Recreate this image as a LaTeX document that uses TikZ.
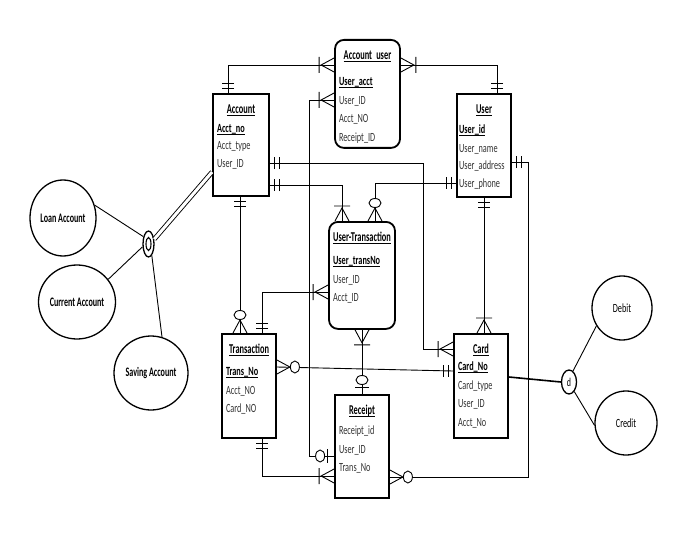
\documentclass[tikz,border=0pt]{standalone}
\usepackage{fontspec}
\setmainfont{Carlito}
\newfontfamily\erfont{Carlito}[FakeStretch=0.66]
\newfontfamily\ertitle{Carlito}[FakeStretch=0.62]
\usetikzlibrary{shapes.geometric}
\newcommand\undl[1]{\leavevmode\setbox0=\hbox{#1}\rlap{\rule[-2pt]{\wd0}{0.7pt}}\box0}
\newcommand\ettl[1]{\rule{0pt}{20pt}\makebox[\linewidth]{\color{black}\ertitle\fontsize{13.5}{18.5}\selectfont\bfseries\undl{#1}}}
\newcommand\ekey[1]{\leavevmode{\color{black}\bfseries\undl{#1}}}

\begin{document}
\begin{tikzpicture}[x=1pt, y=-1pt, line width=0.9pt,
  entity/.style={draw, line width=1.8pt, anchor=north, inner xsep=4pt, inner ysep=0pt,
                 align=left, text=black!80, font=\erfont\fontsize{12.5}{18.5}\selectfont},
  relbox/.style={entity, rounded corners=9pt},
  attrcirc/.style={ellipse, draw, line width=1.3pt, inner sep=0pt,
                   font=\ertitle\fontsize{13}{14}\selectfont\bfseries},
  subcirc/.style={ellipse, draw, line width=1.3pt, inner sep=0pt,
                  font=\erfont\fontsize{12.5}{14}\selectfont},
  dbar/.pic={\draw (-5,-6) -- (-5,6) (-10,-6) -- (-10,6);},
  crowbar/.pic={\draw (0,-7) -- (-13,0) -- (0,7) (-15,-8) -- (-15,8);},
  crowO/.pic={\draw (0,-7) -- (-13,0) -- (0,7);
               \draw[fill=white] (-18,0) ellipse [x radius=4.5, y radius=6];},
  obar/.pic={\draw (-7,-7) -- (-7,7);
              \draw[fill=white] (-14,0) ellipse [x radius=4.5, y radius=6];},
]
\useasboundingbox (0,0) rectangle (700,540);

% entities
\node[entity, text width=48pt, text depth=82pt] (acct) at (241,93)
  {\ettl{Account}\\[0pt] \ekey{Acct\_no}\\[-1pt] Acct\_type\\[-1pt] User\_ID};
\node[relbox, text width=57pt, text depth=88pt] (au) at (367.5,39)
  {\ettl{Account user}\\[7.5pt] \ekey{User\_acct}\\ User\_ID\\ Acct\_NO\\ Receipt\_ID};
\node[entity, inner xsep=2pt, text width=50pt, text depth=83pt] (user) at (484,93)
  {\ettl{User}\\[1.5pt] \ekey{User\_id}\\ User\_name\\[-1pt] User\_address\\[-1pt] User\_phone};
\node[relbox, text width=58pt, text depth=87pt] (ut) at (362,221)
  {\ettl{User-Transaction}\\[4.5pt] \ekey{User\_transNo}\\ User\_ID\\ Acct\_ID};
\node[entity, text width=46pt, text depth=84pt] (trans) at (249,333)
  {\ettl{Transaction}\\[3.5pt] \ekey{Trans\_No}\\ Acct\_NO\\ Card\_NO};
\node[entity, text width=46pt, text depth=83pt] (rcpt) at (362,394)
  {\ettl{Receipt}\\[1.5pt] Receipt\_id\\ User\_ID\\ Trans\_No};
\node[entity, text width=46pt, text depth=84pt] (card) at (481,333)
  {\ettl{Card}\\[-1.5pt] \ekey{Card\_No}\\ Card\_type\\ User\_ID\\ Acct\_No};

% subtypes
\node[attrcirc, minimum width=66pt, minimum height=76pt] (loan) at (63,218) {Loan Account};
\node[attrcirc, minimum width=70pt, minimum height=74pt] (current) at (77,302) {Current Account};
\node[attrcirc, minimum width=74pt, minimum height=74pt] (saving) at (151,373) {Saving Account};
\node[ellipse, draw, line width=1.3pt, minimum width=11pt, minimum height=26pt] (ocirc) at (148.5,244) {};
\draw[line width=1.1pt] (ocirc.center) ellipse [x radius=2.5, y radius=6.5];
\node[subcirc, minimum width=60pt, minimum height=64pt] (debit) at (622,308) {Debit};
\node[subcirc, minimum width=62pt, minimum height=64pt] (credit) at (626,423) {Credit};
\node[subcirc, font=\erfont\fontsize{12}{12}\selectfont, minimum width=15pt, minimum height=24pt] (dsym) at (569,382) {d};

\draw[double, double distance=3pt] ([yshift=-79]acct.north west) -- (ocirc.40);
\draw (ocirc.125) -- (loan.22);
\draw (ocirc.205) -- (current.36);
\draw (ocirc.286) -- (saving.73);
\draw[line width=1.6pt] ([yshift=-44]card.north east) -- (dsym.west);
\draw (dsym.70) -- (debit.215);
\draw (dsym.299) -- (credit.184);

% relationships
\draw ([xshift=-13]acct.north) pic[rotate=-90]{dbar} |- ([yshift=-26]au.north west) pic{crowbar};
\draw ([yshift=-26]au.north east) pic[rotate=180]{crowbar} -| ([xshift=13]user.north) pic[rotate=-90]{dbar};
\draw ([yshift=-61]au.north west) pic{crowbar} -- ++(-25,0) |- ([yshift=-62]rcpt.north west) pic{obar};
\draw ([yshift=-70]acct.north east) pic[rotate=180]{dbar} -- ++(154,0) |- ([yshift=-16]card.north west) pic{crowbar};
\draw ([yshift=-92]acct.north east) pic[rotate=180]{dbar} -| ([xshift=-20]ut.north) pic[rotate=-90]{crowbar};
\draw ([yshift=-90]user.north west) pic{dbar} -| ([xshift=13]ut.north) pic[rotate=-90]{crowO};
\draw ([yshift=-69]user.north east) pic[rotate=180]{dbar} -- ++(17,0) |- ([yshift=-83]rcpt.north east) pic[rotate=180]{crowO};
\draw (user.south) pic[rotate=90]{dbar} -- ([xshift=3]card.north) pic[rotate=-90]{crowbar};
\draw ([xshift=-1]acct.south) pic[rotate=90]{dbar} -- ([xshift=-9]trans.north) pic[rotate=-90]{crowO};
\draw ([yshift=-71]ut.north west) pic{crowbar} -| ([xshift=13]trans.north) pic[rotate=-90]{dbar};
\draw (ut.south) pic[rotate=90]{crowbar} -- (rcpt.north) pic[rotate=-90]{obar};
\draw ([yshift=-34]trans.north east) pic[rotate=180]{crowO} -- ([yshift=-38]card.north west) pic{dbar};
\draw ([xshift=13]trans.south) pic[rotate=90]{dbar} |- ([yshift=-82]rcpt.north west) pic{crowbar};
\end{tikzpicture}
\end{document}
